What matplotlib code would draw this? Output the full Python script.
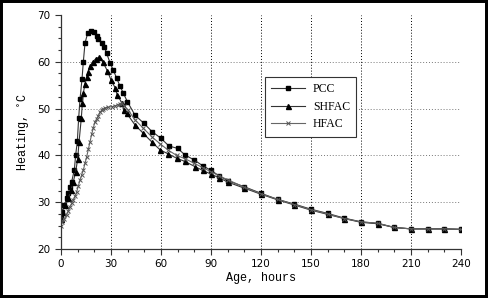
import matplotlib

matplotlib.use("Agg")
import matplotlib.pyplot as plt
from matplotlib.patches import Rectangle
from matplotlib.ticker import MultipleLocator

# values (age in hours, heating in degC)
pcc_age = [0, 0.8, 2, 3.4, 4.4, 5.4, 6.4, 8, 8.8, 9.8, 10.6, 11.4, 12.6, 13.4, 14.4,
           16, 18, 20, 21.4, 22.4, 24.4, 26, 27.4, 29.4, 31.4, 33.4, 35.4, 37.4, 39.8,
           44.4, 49.6, 54.6, 59.8, 64.8, 70, 74.4, 80, 85, 90, 95, 100, 110, 120, 130,
           140, 150, 160, 170, 180, 190, 200, 210, 220, 230, 240]
pcc_temp = [27.0, 28.0, 29.4, 30.8, 31.9, 33.2, 34.4, 36.9, 40.1, 43.0, 48.0, 52.0, 56.3, 60.0, 64.0,
            66.1, 66.6, 66.3, 65.5, 64.8, 64.0, 63.2, 61.8, 59.8, 58.2, 56.5, 54.8, 53.3, 51.5,
            48.6, 46.9, 45.1, 43.7, 42.0, 41.5, 40.1, 39.0, 37.8, 36.8, 35.6, 34.6, 33.3, 31.9, 30.6,
            29.6, 28.5, 27.6, 26.6, 25.8, 25.5, 24.6, 24.3, 24.3, 24.3, 24.2]

shfac_age = [0, 0.4, 2.4, 4.4, 6, 7.4, 8.8, 10, 10.8, 12.2, 12.8, 13.4, 14.4, 15.4, 16.4,
             17.4, 19, 21, 23, 25, 27.8, 30, 32.4, 33.8, 36.4, 37.8, 39.4, 44.4, 49.4, 54.4,
             59.4, 64.4, 69.4, 74.4, 80.4, 85, 90, 95, 100, 110, 120, 130, 140, 150, 160,
             170, 180, 190, 200, 210, 220, 230, 240]
shfac_temp = [26.5, 28.0, 29.4, 30.8, 32.6, 34.4, 36.5, 39.2, 42.8, 48.0, 51.1, 53.3, 55.3, 56.7, 57.9,
              59.0, 60.0, 60.7, 61.0, 60.0, 58.1, 56.1, 54.5, 52.9, 51.3, 49.7, 49.0, 46.5, 44.7, 42.9,
              41.2, 40.3, 39.4, 38.7, 37.6, 36.8, 36.0, 35.2, 34.3, 33.0, 31.7, 30.5, 29.4, 28.3, 27.4,
              26.5, 25.7, 25.4, 24.6, 24.3, 24.3, 24.3, 24.2]

hfac_age = [0, 0.4, 2, 3.4, 4.4, 5.4, 6.4, 7.4, 8.4, 9.4, 10.4, 11.4, 12.4, 13.4, 14.4,
            15.4, 16.4, 17.4, 18.4, 19.4, 20.4, 21.4, 22.4, 23.4, 24.4, 25.4, 26.4, 28.4,
            30.4, 32.4, 34, 35.4, 36.5, 38, 40, 44.4, 49.4, 54.4, 59.4, 64.4, 69.4, 74.4,
            80, 85, 90, 95, 100, 110, 120, 130, 140, 150, 160, 170, 180, 190, 200, 210,
            220, 230, 240]
hfac_temp = [25.0, 25.8, 26.5, 27.3, 28.2, 29.0, 29.8, 30.5, 31.3, 32.2, 33.5, 34.7, 35.8, 36.9, 38.3,
             39.7, 41.3, 42.9, 44.5, 45.9, 47.2, 47.8, 48.5, 49.3, 49.6, 49.9, 50.1, 50.3,
             50.4, 50.6, 50.8, 51.0, 51.2, 50.6, 49.8, 47.6, 45.8, 44.0, 42.5, 41.1, 40.0, 39.3,
             38.3, 37.4, 36.5, 35.6, 34.8, 33.2, 31.8, 30.6, 29.5, 28.4, 27.5, 26.5, 25.8, 25.5,
             24.6, 24.3, 24.3, 24.3, 24.2]

series_labels = ["PCC", "SHFAC", "HFAC"]

fig = plt.figure(figsize=(4.88, 2.98), dpi=100)
ax = fig.add_axes([0.125, 0.1644, 0.8197, 0.7853])

ax.plot(pcc_age, pcc_temp, color="#333333", lw=0.8, marker="s", ms=2.6,
        mfc="black", mec="black", label=series_labels[0])
ax.plot(shfac_age, shfac_temp, color="#333333", lw=0.8, marker="^", ms=3.6,
        mfc="black", mec="black", label=series_labels[1])
ax.plot(hfac_age, hfac_temp, color="#666666", lw=0.8, marker="x", ms=3.2,
        mew=0.7, mec="#555555", label=series_labels[2])

ax.set_xlim(0, 240)
ax.set_ylim(20, 70)
ax.xaxis.set_major_locator(MultipleLocator(30))
ax.xaxis.set_minor_locator(MultipleLocator(10))
ax.yaxis.set_major_locator(MultipleLocator(10))
ax.yaxis.set_minor_locator(MultipleLocator(2.5))
ax.tick_params(which="major", direction="out", length=4, width=0.8, colors="#333333",
               labelsize=7.5, labelcolor="black")
ax.tick_params(which="minor", direction="out", length=2.5, width=0.8, colors="#333333")

for spine in ("top", "right"):
    ax.spines[spine].set_visible(False)
for spine in ("left", "bottom"):
    ax.spines[spine].set_color("#333333")
    ax.spines[spine].set_linewidth(0.9)

# dotted grid, only inside the plot, vertical lines stop short of 240
for gx in range(30, 240, 30):
    ax.axvline(gx, color="black", lw=0.7, ls=(0, (1, 2)), zorder=0)
for gy in range(30, 70, 10):
    ax.axhline(gy, color="#777777", lw=0.7, ls=(0, (1, 2)), zorder=0)

ax.set_xlabel("Age, hours", family="Liberation Mono", fontsize=8.5, labelpad=2)
ax.set_ylabel("Heating, $^{\\circ}$C", family="Liberation Mono", fontsize=8.5, labelpad=4)

leg = ax.legend(loc="upper left", bbox_to_anchor=(0.51, 0.735), borderaxespad=0,
                frameon=True, fancybox=False, edgecolor="#333333", framealpha=1,
                prop={"family": "Liberation Serif", "size": 8.5},
                handlelength=2.8, borderpad=0.55, labelspacing=0.45, handletextpad=0.7)
leg.get_frame().set_linewidth(0.8)

fig.patches.append(Rectangle((0, 0), 1, 1, transform=fig.transFigure, fill=False,
                             edgecolor="black", lw=4.3))

fig.savefig("out.png", dpi=100)
